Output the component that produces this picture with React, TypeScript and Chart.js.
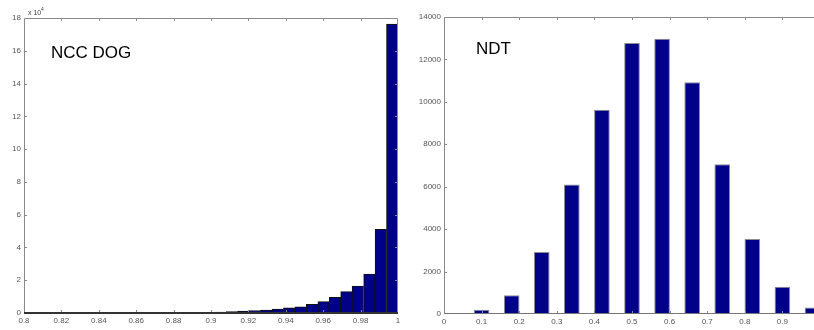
import React, { useEffect, useRef } from "react";
import { Chart, registerables } from "chart.js";

Chart.register(...registerables);

// Left histogram: NCC DOG (counts in units of 1e4)
const nccBinCenters = [
  0.8928, 0.8989, 0.905, 0.9112, 0.9173, 0.9234, 0.9295, 0.9357, 0.9418,
  0.9479, 0.954, 0.9602, 0.9663, 0.9724, 0.9785, 0.9847, 0.9908, 0.9969,
];
const nccCounts = [
  300, 400, 600, 800, 1200, 1500, 1800, 2400, 3100, 3800, 5300, 6900, 9600,
  13000, 16400, 23800, 51000, 176300,
];
const nccYTicks = [0, 20000, 40000, 60000, 80000, 100000, 120000, 140000, 160000, 180000];
const nccXTicks = [0.8, 0.82, 0.84, 0.86, 0.88, 0.9, 0.92, 0.94, 0.96, 0.98, 1];

// Right histogram: NDT
const ndtBinCenters = [0.02, 0.1, 0.18, 0.26, 0.34, 0.42, 0.5, 0.58, 0.66, 0.74, 0.82, 0.9, 0.98];
const ndtCounts = [50, 200, 880, 2920, 6100, 9630, 12780, 12980, 10920, 7060, 3540, 1280, 310];
const ndtYTicks = [0, 2000, 4000, 6000, 8000, 10000, 12000, 14000];
const ndtXTicks = [0, 0.1, 0.2, 0.3, 0.4, 0.5, 0.6, 0.7, 0.8, 0.9, 1];

const FONT = "Arial, 'Liberation Sans', Helvetica, sans-serif";

function framePlugin(title: string, titleX: number, titleY: number, exponent: boolean, darkBase: boolean) {
  return {
    id: "frame",
    afterDatasetsDraw(chart: any) {
      const { ctx, chartArea: a, scales } = chart;
      const xs = scales.x;
      const ys = scales.y;
      ctx.save();
      ctx.strokeStyle = "#8a8a8a";
      ctx.lineWidth = 1;
      ctx.beginPath();
      ctx.moveTo(a.left + 0.5, a.bottom);
      ctx.lineTo(a.left + 0.5, a.top + 0.5);
      ctx.lineTo(a.right - 0.5, a.top + 0.5);
      ctx.lineTo(a.right - 0.5, a.bottom);
      ctx.stroke();
      const tl = 3;
      ctx.beginPath();
      xs.ticks.forEach((t: any) => {
        const px = Math.round(xs.getPixelForValue(t.value)) + 0.5;
        if (px <= a.left + 1 || px >= a.right - 1) return;
        ctx.moveTo(px, a.top);
        ctx.lineTo(px, a.top + tl);
        ctx.moveTo(px, a.bottom);
        ctx.lineTo(px, a.bottom - tl);
      });
      ys.ticks.forEach((t: any) => {
        const py = Math.round(ys.getPixelForValue(t.value)) + 0.5;
        if (py <= a.top + 1 || py >= a.bottom - 1) return;
        ctx.moveTo(a.left, py);
        ctx.lineTo(a.left + tl, py);
        ctx.moveTo(a.right, py);
        ctx.lineTo(a.right - tl, py);
      });
      ctx.stroke();
      ctx.strokeStyle = darkBase ? "#333" : "#777";
      ctx.lineWidth = darkBase ? 2 : 1;
      ctx.beginPath();
      ctx.moveTo(a.left, a.bottom - (darkBase ? 0 : 0.5));
      ctx.lineTo(a.right, a.bottom - (darkBase ? 0 : 0.5));
      ctx.stroke();

      ctx.fillStyle = "#000";
      ctx.font = `17px ${FONT}`;
      ctx.textBaseline = "middle";
      ctx.textAlign = "left";
      ctx.fillText(title, titleX, titleY);
      if (exponent) {
        ctx.fillStyle = "#444";
        ctx.font = `7px ${FONT}`;
        ctx.textBaseline = "alphabetic";
        ctx.fillText("x 10", a.left + 4, a.top - 3);
        ctx.font = `5px ${FONT}`;
        ctx.fillText("4", a.left + 17, a.top - 7);
      }
      ctx.restore();
    },
  };
}

function makeConfig(opts: {
  centers: number[];
  counts: number[];
  xTicks: number[];
  yTicks: number[];
  xMin: number;
  xMax: number;
  yMax: number;
  yWidth: number;
  xHeight: number;
  padTop: number;
  padRight: number;
  barPct: number;
  borderColor: string;
  yFormat: (v: number) => string;
  plugin: any;
}) {
  return {
    type: "bar" as const,
    data: {
      datasets: [
        {
          data: opts.centers.map((c, i) => ({ x: c, y: opts.counts[i] })),
          backgroundColor: "#000088",
          borderColor: opts.borderColor,
          borderWidth: 1,
          barPercentage: opts.barPct,
          categoryPercentage: 1,
        },
      ],
    },
    options: {
      responsive: false,
      animation: false,
      layout: { autoPadding: false, padding: { top: opts.padTop, right: opts.padRight, left: 0, bottom: 0 } },
      plugins: { legend: { display: false }, tooltip: { enabled: false } },
      scales: {
        x: {
          type: "linear",
          offset: false,
          min: opts.xMin,
          max: opts.xMax,
          grid: { display: false, drawTicks: false, tickLength: 0 },
          border: { display: false },
          afterBuildTicks: (s: any) => {
            s.ticks = opts.xTicks.map((v) => ({ value: v }));
          },
          afterFit: (s: any) => {
            s.height = opts.xHeight;
          },
          ticks: {
            autoSkip: false,
            maxRotation: 0,
            padding: 3,
            color: "#555",
            font: { size: 8, family: FONT },
            callback: (v: number) => String(Number(v.toFixed(2))),
          },
        },
        y: {
          min: 0,
          max: opts.yMax,
          grid: { display: false, drawTicks: false, tickLength: 0 },
          border: { display: false },
          afterBuildTicks: (s: any) => {
            s.ticks = opts.yTicks.map((v) => ({ value: v }));
          },
          afterFit: (s: any) => {
            s.width = opts.yWidth;
          },
          ticks: {
            padding: 3,
            color: "#555",
            font: { size: 8, family: FONT },
            callback: (v: number) => opts.yFormat(v),
          },
        },
      },
    },
    plugins: [opts.plugin],
  };
}

function Hist({ config, left, width }: { config: any; left: number; width: number }) {
  const ref = useRef<HTMLCanvasElement>(null);
  useEffect(() => {
    const chart = new Chart(ref.current as HTMLCanvasElement, config);
    return () => chart.destroy();
  }, []);
  return (
    <canvas
      ref={ref}
      width={width}
      height={330}
      style={{ position: "absolute", left, top: 0, width, height: 330 }}
    />
  );
}

export default function App() {
  const leftCfg = makeConfig({
    centers: nccBinCenters,
    counts: nccCounts,
    xTicks: nccXTicks,
    yTicks: nccYTicks,
    xMin: 0.8,
    xMax: 1,
    yMax: 180000,
    yWidth: 24,
    xHeight: 17,
    padTop: 18,
    padRight: 7,
    barPct: 1,
    borderColor: "#111",
    yFormat: (v) => String(v / 10000),
    plugin: framePlugin("NCC DOG", 51, 53, true, true),
  });
  const rightCfg = makeConfig({
    centers: ndtBinCenters,
    counts: ndtCounts,
    xTicks: ndtXTicks,
    yTicks: ndtYTicks,
    xMin: 0,
    xMax: 1,
    yMax: 14000,
    yWidth: 34,
    xHeight: 16,
    padTop: 17,
    padRight: 7,
    barPct: 0.52,
    borderColor: "#8c8c8c",
    yFormat: (v) => String(v),
    plugin: framePlugin("NDT", 66, 49, false, false),
  });
  return (
    <div
      style={{
        position: "fixed",
        left: 0,
        top: 0,
        width: 814,
        height: 330,
        overflow: "hidden",
        background: "#fff",
      }}
    >
      <Hist config={leftCfg} left={0} width={405} />
      <Hist config={rightCfg} left={410} width={417} />
    </div>
  );
}
